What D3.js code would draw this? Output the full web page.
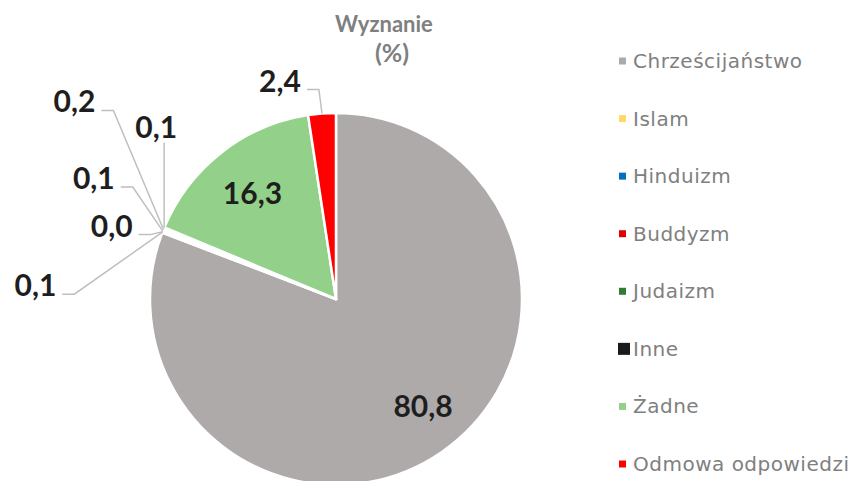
<!DOCTYPE html>
<html>
<head>
<meta charset="utf-8">
<script src="https://cdn.jsdelivr.net/npm/d3@7"></script>
<style>
  body { margin: 0; background: #fff; }
  svg { display: block; }
</style>
</head>
<body>
<script>
// dane wykresu
const kategorie = ["Chrześcijaństwo", "Islam", "Hinduizm", "Buddyzm", "Judaizm", "Inne", "Żadne", "Odmowa odpowiedzi"];
const wartosci = [80.8, 0.1, 0.0, 0.1, 0.2, 0.1, 16.3, 2.4];
const etykiety = ["80,8", "0,1", "0,0", "0,1", "0,2", "0,1", "16,3", "2,4"];
const kolory = ["#AEAAAA", "#FFD966", "#0070C0", "#E00000", "#2E7D32", "#1A1A1A", "#93D18A", "#FF0000"];
const tytul = ["Wyznanie", "(%)"];

// rozmieszczenie etykiet (jak w Excelu): wewnątrz albo na zewnątrz z linią odniesienia
const ukladEtykiet = [
  { typ: "wew", r: 0.73, dx: 10, dy: -6 },
  { typ: "zew", dx: -127, dy: 52 },
  { typ: "zew", dx: -51, dy: -7 },
  { typ: "zew", dx: -69, dy: -54 },
  { typ: "zew", dx: -89, dy: -129 },
  { typ: "pion", dx: -8, dy: -102 },
  { typ: "wew", r: 0.73, dx: 0, dy: 0 },
  { typ: "zew", dx: -42, dy: -34 }
];

const width = 864, height = 481;
const cx = 336, cy = 299, R = 186;

const svg = d3.select("body").append("svg")
  .attr("width", width)
  .attr("height", height);

const pie = d3.pie().sort(null).value(d => d);
const luki = pie(wartosci);
const arc = d3.arc().innerRadius(0).outerRadius(R);

const g = svg.append("g").attr("transform", `translate(${cx},${cy})`);

g.selectAll("path.wycinek")
  .data(luki)
  .join("path")
  .attr("class", "wycinek")
  .attr("d", arc)
  .attr("fill", (d, i) => kolory[i])
  .attr("stroke", "#fff")
  .attr("stroke-width", 2.5)
  .attr("stroke-linejoin", "round");

// punkt zaczepienia na obwodzie
function kotwica(d) {
  const a = (d.startAngle + d.endAngle) / 2;
  return [R * Math.sin(a), -R * Math.cos(a)];
}

const fontEtykiet = "Lato, 'Liberation Sans', sans-serif";

luki.forEach((d, i) => {
  const u = ukladEtykiet[i];
  let x, y;
  if (u.typ === "wew") {
    const a = (d.startAngle + d.endAngle) / 2;
    x = R * u.r * Math.sin(a) + u.dx;
    y = -R * u.r * Math.cos(a) + u.dy;
  } else {
    const [kx, ky] = kotwica(d);
    x = kx + u.dx;
    y = ky + u.dy;
  }
  const t = g.append("text")
    .attr("x", x)
    .attr("y", y)
    .attr("text-anchor", "middle")
    .attr("dominant-baseline", "central")
    .attr("font-family", fontEtykiet)
    .attr("font-weight", "bold")
    .attr("font-size", 30)
    .attr("fill", "#1E1E1E")
    .text(etykiety[i]);

  if (u.typ === "wew") return;
  const [kx, ky] = kotwica(d);
  const w = t.node().getComputedTextLength();
  let punkty;
  if (u.typ === "zew") {
    const x0 = x + w / 2 + 6, y0 = y + 10;
    punkty = [[x0, y0], [x0 + 12, y0], [kx, ky]];
  } else {
    punkty = [[kx, y + 17], [kx, ky]];
  }
  g.insert("path", "text")
    .attr("d", d3.line()(punkty))
    .attr("fill", "none")
    .attr("stroke", "#BFBFBF")
    .attr("stroke-width", 1.5);
});

// tytuł
svg.append("text")
  .attr("x", 384).attr("y", 32)
  .attr("text-anchor", "middle")
  .attr("font-family", fontEtykiet)
  .attr("font-weight", "bold")
  .attr("font-size", 22)
  .attr("fill", "#7F7F7F")
  .text(tytul[0]);
svg.append("text")
  .attr("x", 392).attr("y", 62)
  .attr("text-anchor", "middle")
  .attr("font-family", fontEtykiet)
  .attr("font-weight", "bold")
  .attr("font-size", 25)
  .attr("fill", "#7F7F7F")
  .text(tytul[1]);

// legenda
const yLeg = d3.scalePoint().domain(kategorie).range([61, 464]);
const leg = svg.append("g").selectAll("g")
  .data(kategorie)
  .join("g")
  .attr("transform", d => `translate(0,${yLeg(d)})`);

leg.append("rect")
  .attr("x", (d, i) => i === 5 ? 618 : 619)
  .attr("y", (d, i) => i === 5 ? -6 : -3.5)
  .attr("width", (d, i) => i === 5 ? 12 : 7)
  .attr("height", (d, i) => i === 5 ? 12 : 7)
  .attr("fill", (d, i) => kolory[i]);

leg.append("text")
  .attr("x", 633)
  .attr("y", 0)
  .attr("dominant-baseline", "central")
  .attr("font-family", "'DejaVu Sans', sans-serif")
  .attr("font-size", 20)
  .attr("letter-spacing", 0.5)
  .attr("fill", "#808080")
  .text(d => d);
</script>
</body>
</html>
